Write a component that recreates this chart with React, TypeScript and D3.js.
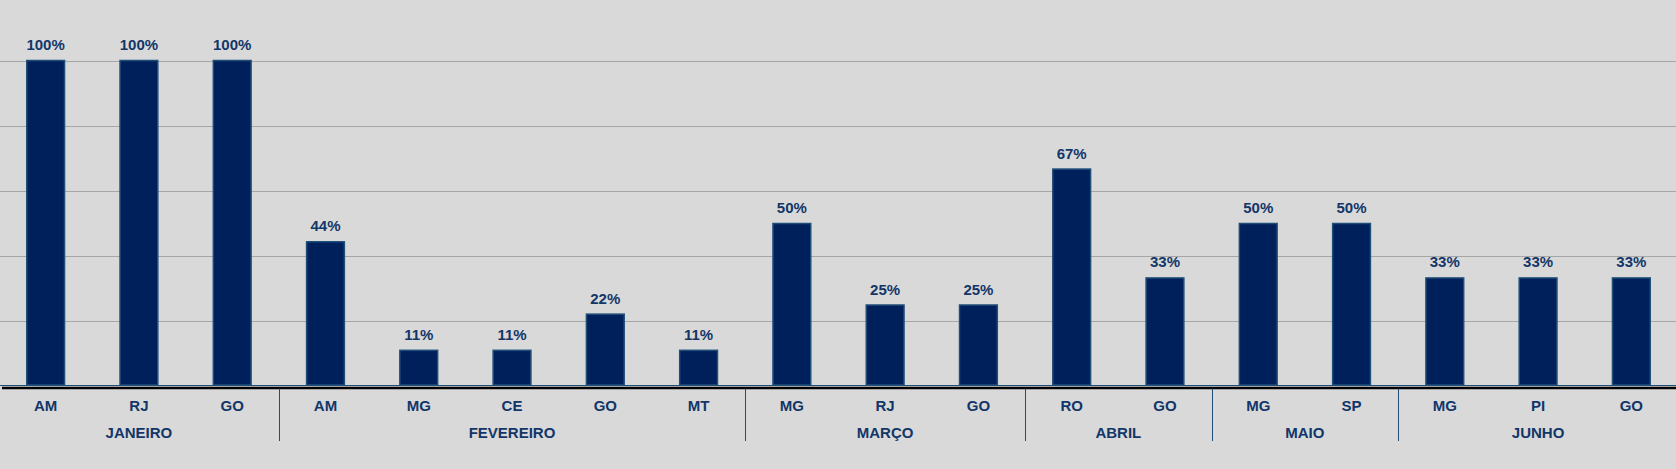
import { useEffect, useRef } from 'react';
import { select, scaleBand, scaleLinear } from 'd3';

// data
const months = ['JANEIRO', 'FEVEREIRO', 'MARÇO', 'ABRIL', 'MAIO', 'JUNHO'];
const states = [
  ['AM', 'RJ', 'GO'],
  ['AM', 'MG', 'CE', 'GO', 'MT'],
  ['MG', 'RJ', 'GO'],
  ['RO', 'GO'],
  ['MG', 'SP'],
  ['MG', 'PI', 'GO'],
];
const values = [
  [100, 100, 100],
  [44.4, 11.1, 11.1, 22.2, 11.1],
  [50, 25, 25],
  [66.7, 33.3],
  [50, 50],
  [33.3, 33.3, 33.3],
];
const gridTicks = [20, 40, 60, 80, 100];

export default function App() {
  const ref = useRef<SVGSVGElement>(null);

  useEffect(() => {
    const el = ref.current;
    if (!el) return;
    const svg = select(el);
    svg.selectAll('*').remove();

    const W = 1676,
      H = 469;
    const textColor = '#123668';
    const font = '"Liberation Sans", Arial, sans-serif';

    // flatten groups into one row of bars
    const rows: { key: string; state: string; value: number; m: number }[] = [];
    months.forEach((m, mi) =>
      states[mi].forEach((s, si) =>
        rows.push({ key: `${mi}-${si}`, state: s, value: values[mi][si], m: mi })
      )
    );

    const x = scaleBand()
      .domain(rows.map((d) => d.key))
      .range([-1, 1678])
      .paddingInner(0.595)
      .paddingOuter(0.2975);
    const step = x.step();
    const y = scaleLinear().domain([0, 100]).range([386.5, 60.5]);

    svg.append('rect').attr('width', W).attr('height', H).attr('fill', '#D9D9D9');

    // gridlines
    svg
      .append('g')
      .selectAll('line')
      .data(gridTicks)
      .join('line')
      .attr('x1', 0)
      .attr('x2', W)
      .attr('y1', (d) => Math.round(y(d)) + 0.5)
      .attr('y2', (d) => Math.round(y(d)) + 0.5)
      .attr('stroke', '#A6A6A6')
      .attr('stroke-width', 1);

    // bars
    svg
      .append('g')
      .selectAll('rect')
      .data(rows)
      .join('rect')
      .attr('x', (d) => x(d.key)!)
      .attr('y', (d) => y(d.value))
      .attr('width', x.bandwidth())
      .attr('height', (d) => y(0) - 1.5 - y(d.value))
      .attr('fill', '#00205C')
      .attr('stroke', '#1F4E79')
      .attr('stroke-width', 1.5);

    // value labels
    svg
      .append('g')
      .selectAll('text')
      .data(rows)
      .join('text')
      .attr('x', (d) => x(d.key)! + x.bandwidth() / 2)
      .attr('y', (d) => y(d.value) - 10.5)
      .attr('text-anchor', 'middle')
      .attr('font-family', font)
      .attr('font-weight', 'bold')
      .attr('font-size', 15)
      .attr('fill', textColor)
      .text((d) => `${Math.round(d.value)}%`);

    // baseline
    svg
      .append('line')
      .attr('x1', 0)
      .attr('x2', W)
      .attr('y1', y(0) - 1)
      .attr('y2', y(0) - 1)
      .attr('stroke', '#1F4E79')
      .attr('stroke-width', 1);
    svg
      .append('line')
      .attr('x1', 2)
      .attr('x2', W)
      .attr('y1', y(0) + 1.5)
      .attr('y2', y(0) + 1.5)
      .attr('stroke', '#000')
      .attr('stroke-width', 2.5);

    // category labels
    svg
      .append('g')
      .selectAll('text')
      .data(rows)
      .join('text')
      .attr('x', (d) => x(d.key)! + x.bandwidth() / 2)
      .attr('y', 410.5)
      .attr('text-anchor', 'middle')
      .attr('font-family', font)
      .attr('font-weight', 'bold')
      .attr('font-size', 15)
      .attr('fill', textColor)
      .text((d) => d.state);

    // month groups
    let start = 0;
    const groups = months.map((m, mi) => {
      const g = { m, first: rows[start].key, last: rows[start + states[mi].length - 1].key };
      start += states[mi].length;
      return g;
    });
    const pad = (step - x.bandwidth()) / 2;
    svg
      .append('g')
      .selectAll('text')
      .data(groups)
      .join('text')
      .attr('x', (g) => (x(g.first)! + x(g.last)! + x.bandwidth()) / 2)
      .attr('y', 437.5)
      .attr('text-anchor', 'middle')
      .attr('font-family', font)
      .attr('font-weight', 'bold')
      .attr('font-size', 15)
      .attr('fill', textColor)
      .text((g) => g.m);

    svg
      .append('g')
      .selectAll('line')
      .data(groups.slice(1))
      .join('line')
      .attr('x1', (g) => Math.round(x(g.first)! - pad) + 0.5)
      .attr('x2', (g) => Math.round(x(g.first)! - pad) + 0.5)
      .attr('y1', y(0) + 2)
      .attr('y2', 441)
      .attr('stroke', '#1F4E79')
      .attr('stroke-width', 1);
  }, []);

  return (
    <svg
      ref={ref}
      width={1676}
      height={469}
      style={{ position: 'absolute', left: 0, top: 0, display: 'block' }}
    />
  );
}
